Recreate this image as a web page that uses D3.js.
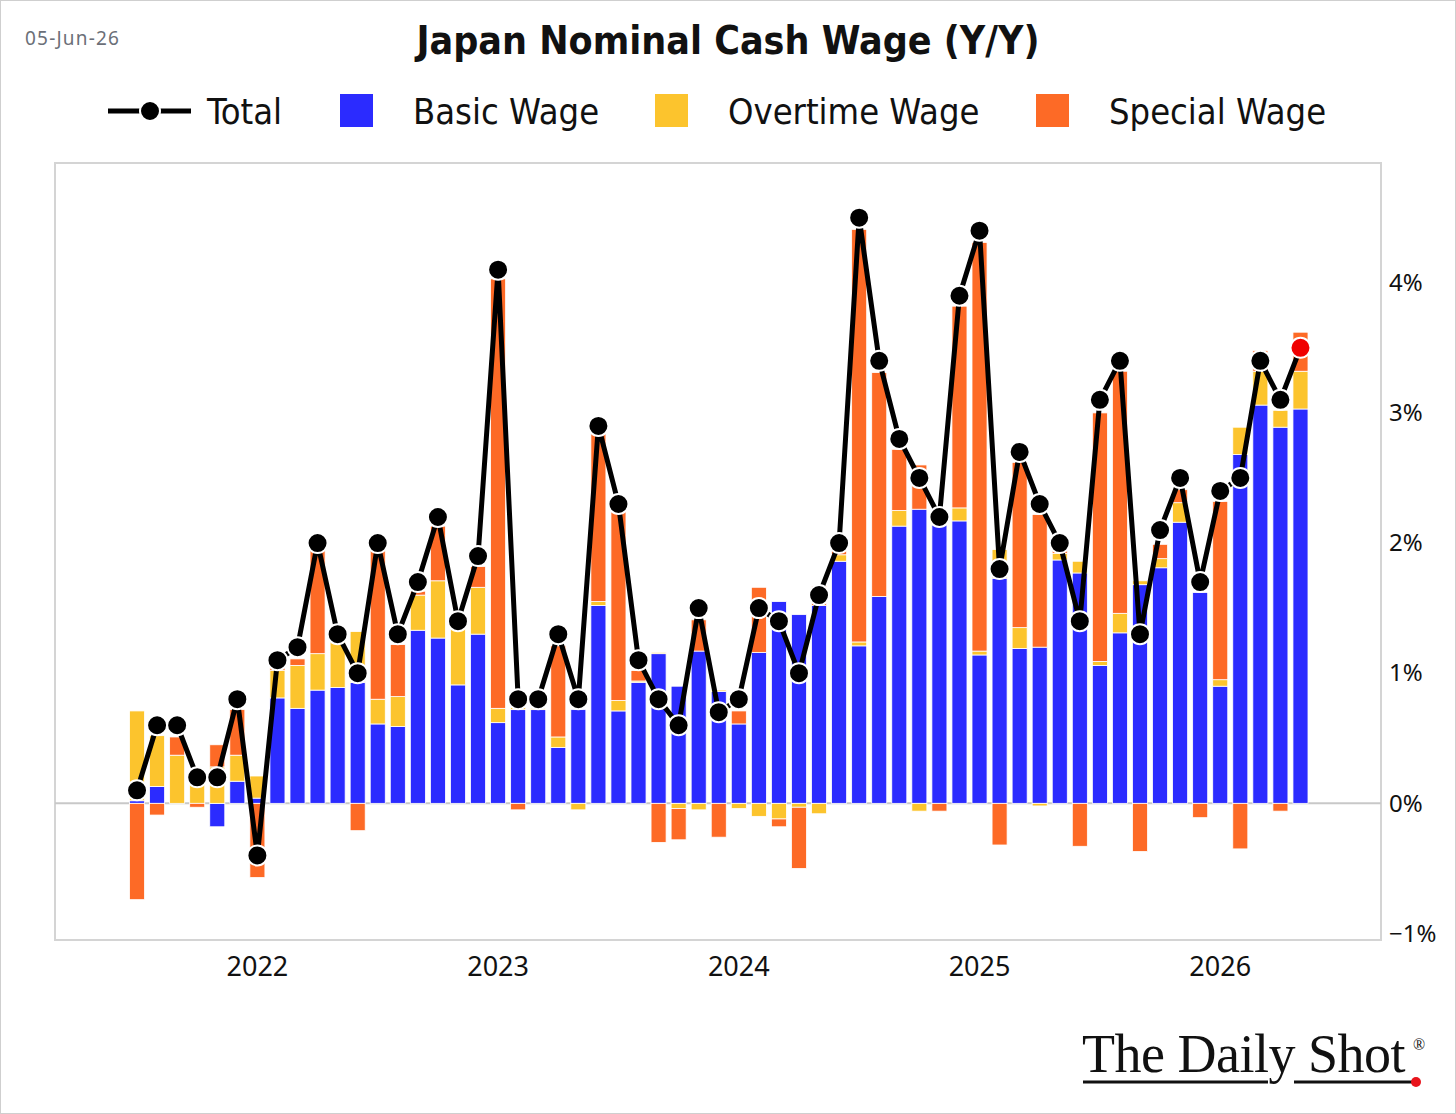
<!DOCTYPE html>
<html>
<head>
<meta charset="utf-8">
<script src="https://cdn.jsdelivr.net/npm/d3@7"></script>
<style>
  body { margin: 0; background: #fff; }
  svg { display: block; }
</style>
</head>
<body>
<div id="chart"></div>
<script>
// months Jul 2021 .. May 2026
const months = ["2021-07","2021-08","2021-09","2021-10","2021-11","2021-12",
  "2022-01","2022-02","2022-03","2022-04","2022-05","2022-06","2022-07","2022-08","2022-09","2022-10","2022-11","2022-12",
  "2023-01","2023-02","2023-03","2023-04","2023-05","2023-06","2023-07","2023-08","2023-09","2023-10","2023-11","2023-12",
  "2024-01","2024-02","2024-03","2024-04","2024-05","2024-06","2024-07","2024-08","2024-09","2024-10","2024-11","2024-12",
  "2025-01","2025-02","2025-03","2025-04","2025-05","2025-06","2025-07","2025-08","2025-09","2025-10","2025-11","2025-12",
  "2026-01","2026-02","2026-03","2026-04","2026-05"];

const total = [0.1,0.6,0.6,0.2,0.2,0.8,
  -0.4,1.1,1.2,2.0,1.3,1.0,2.0,1.3,1.7,2.2,1.4,1.9,
  4.1,0.8,0.8,1.3,0.8,2.9,2.3,1.1,0.8,0.6,1.5,0.7,
  0.8,1.5,1.4,1.0,1.6,2.0,4.5,3.4,2.8,2.5,2.2,3.9,
  4.4,1.8,2.7,2.3,2.0,1.4,3.1,3.4,1.3,2.1,2.5,1.7,
  2.4,2.5,3.4,3.1,3.5];

const basic = [0.02,0.13,0.0,0.0,-0.18,0.17,
  0.04,0.81,0.73,0.87,0.89,0.93,0.61,0.59,1.33,1.27,0.91,1.30,
  0.62,0.72,0.72,0.43,0.72,1.52,0.71,0.93,1.15,0.90,1.17,0.86,
  0.61,1.16,1.55,1.45,1.52,1.86,1.21,1.59,2.13,2.26,2.14,2.17,
  1.14,1.73,1.19,1.20,1.87,1.77,1.06,1.31,1.68,1.81,2.16,1.62,
  0.90,2.68,3.06,2.89,3.03];

const overtime = [0.69,0.39,0.37,0.15,0.28,0.20,
  0.17,0.21,0.33,0.28,0.36,0.39,0.19,0.23,0.27,0.44,0.47,0.36,
  0.11,0.02,0.01,0.08,-0.05,0.03,0.08,0.01,0.01,-0.04,-0.05,0.01,
  -0.04,-0.10,-0.12,-0.03,-0.08,0.05,0.03,0.0,0.12,-0.06,0.05,0.10,
  0.03,0.22,0.16,-0.02,0.05,0.09,0.03,0.15,0.03,0.07,0.15,0.0,
  0.05,0.21,0.26,0.13,0.29];

const special = [-0.74,-0.09,0.14,-0.03,0.17,0.35,
  -0.57,0.04,0.05,0.80,0.05,-0.21,1.15,0.40,0.03,0.42,0.02,0.16,
  3.30,-0.05,0.0,0.70,0.0,1.29,1.45,0.08,-0.30,-0.24,0.24,-0.26,
  0.10,0.50,-0.06,-0.47,0.15,0.04,3.17,1.72,0.47,0.34,-0.06,1.55,
  3.14,-0.32,1.27,1.02,0.03,-0.33,1.91,1.86,-0.37,0.11,0.10,-0.11,
  1.37,-0.35,0.16,-0.06,0.30];

const yTicks = [-1, 0, 1, 2, 3, 4];
const yearTicks = ["2022-01","2023-01","2024-01","2025-01","2026-01"];

const seriesNames = ["Basic Wage", "Overtime Wage", "Special Wage"];
const colors = ["#2b2bff", "#fcc42d", "#fd6a26"];

const W = 1456, H = 1114;
const plot = {left: 55, top: 163, right: 1381, bottom: 940};

const svg = d3.select("#chart").append("svg")
  .attr("width", W)
  .attr("height", H)
  .style("font-family", "'Noto Sans', sans-serif");

// outer border
svg.append("rect")
  .attr("x", 0.5).attr("y", 0.5)
  .attr("width", W - 1).attr("height", H - 1)
  .attr("fill", "#fff").attr("stroke", "#cfcfcf");

// scales
const x = d3.scaleBand()
  .domain(months)
  .range([127, 1310.5])
  .paddingInner(0.25)
  .paddingOuter(0.125);

const y = d3.scaleLinear()
  .domain([-1.05, 4.92])
  .range([plot.bottom, plot.top]);

// stacked data, positives up and negatives down
const rows = months.map((m, i) => ({month: m, b: basic[i], o: overtime[i], s: special[i]}));
const stacked = d3.stack()
  .keys(["b", "o", "s"])
  .offset(d3.stackOffsetDiverging)(rows);

// frame
svg.append("rect")
  .attr("x", plot.left).attr("y", plot.top)
  .attr("width", plot.right - plot.left)
  .attr("height", plot.bottom - plot.top)
  .attr("fill", "none")
  .attr("stroke", "#d4d4d4")
  .attr("stroke-width", 2);

// zero line
svg.append("line")
  .attr("x1", plot.left).attr("x2", plot.right)
  .attr("y1", y(0)).attr("y2", y(0))
  .attr("stroke", "#c8c8c8")
  .attr("stroke-width", 2);

// bars
svg.append("g").selectAll("g")
  .data(stacked)
  .join("g")
  .attr("fill", (d, i) => colors[i])
  .selectAll("rect")
  .data(d => d)
  .join("rect")
  .attr("x", d => x(d.data.month))
  .attr("width", x.bandwidth())
  .attr("y", d => y(Math.max(d[0], d[1])))
  .attr("height", d => Math.abs(y(d[0]) - y(d[1])))
  .attr("stroke", "#fff")
  .attr("stroke-width", 0.8);

// total line
const cx = m => x(m) + x.bandwidth() / 2;
const line = d3.line()
  .x((d, i) => cx(months[i]))
  .y(d => y(d));

svg.append("path")
  .datum(total)
  .attr("fill", "none")
  .attr("stroke", "#000")
  .attr("stroke-width", 5)
  .attr("stroke-linejoin", "round")
  .attr("d", line);

svg.append("g").selectAll("circle")
  .data(total)
  .join("circle")
  .attr("cx", (d, i) => cx(months[i]))
  .attr("cy", d => y(d))
  .attr("r", 10)
  .attr("fill", (d, i) => i === total.length - 1 ? "#f00000" : "#000")
  .attr("stroke", "#fff")
  .attr("stroke-width", 2);

// y axis on right
const yAxis = d3.axisRight(y)
  .tickValues(yTicks)
  .tickSize(0)
  .tickPadding(0)
  .tickFormat(d => (d < 0 ? "\u2212" : "") + Math.abs(d) + "%");

svg.append("g")
  .attr("transform", "translate(1389,0)")
  .call(yAxis)
  .call(g => g.select(".domain").remove())
  .selectAll("text")
  .attr("font-size", 24)
  .attr("font-family", "'Noto Sans', sans-serif")
  .attr("fill", "#111");

// x axis
const xAxis = d3.axisBottom(x)
  .tickValues(yearTicks)
  .tickSize(0)
  .tickPadding(0)
  .tickFormat(d => d.slice(0, 4));

svg.append("g")
  .attr("transform", "translate(0,957)")
  .call(xAxis)
  .call(g => g.select(".domain").remove())
  .selectAll("text")
  .attr("font-size", 27)
  .attr("font-family", "'Noto Sans', sans-serif")
  .attr("fill", "#111");

// date + title
svg.append("text")
  .attr("x", 25).attr("y", 45)
  .attr("font-size", 19)
  .attr("font-family", "'Noto Sans', sans-serif")
  .attr("letter-spacing", 1.2)
  .attr("fill", "#6b6f78")
  .text("05-Jun-26");

svg.append("text")
  .attr("x", 728).attr("y", 54)
  .attr("text-anchor", "middle")
  .attr("font-size", 39)
  .attr("font-weight", "bold")
  .attr("font-family", "'DejaVu Sans Condensed', 'DejaVu Sans', sans-serif")
  .style("font-stretch", "condensed")
  .attr("fill", "#111")
  .text("Japan Nominal Cash Wage (Y/Y)");

// legend
const legend = svg.append("g")
  .style("font-family", "'DejaVu Sans Condensed', 'DejaVu Sans', sans-serif")
  .style("font-stretch", "condensed");

legend.append("line")
  .attr("x1", 108).attr("x2", 191)
  .attr("y1", 111).attr("y2", 111)
  .attr("stroke", "#000").attr("stroke-width", 5);
legend.append("circle")
  .attr("cx", 150).attr("cy", 111).attr("r", 10)
  .attr("fill", "#000").attr("stroke", "#fff").attr("stroke-width", 2);
legend.append("text")
  .attr("x", 207).attr("y", 124)
  .attr("font-size", 36)
  .attr("fill", "#111")
  .text("Total");

const legendX = [340, 655, 1036];
seriesNames.forEach((name, i) => {
  legend.append("rect")
    .attr("x", legendX[i]).attr("y", 94)
    .attr("width", 33).attr("height", 33)
    .attr("fill", colors[i]);
  legend.append("text")
    .attr("x", legendX[i] + 73).attr("y", 124)
    .attr("font-size", 36)
    .attr("fill", "#111")
    .text(name);
});

// watermark
const mark = svg.append("g");
mark.append("text")
  .attr("x", 1082).attr("y", 1072)
  .attr("font-size", 54)
  .attr("font-family", "'Liberation Serif', 'DejaVu Serif', serif")
  .attr("letter-spacing", -0.5)
  .attr("fill", "#111")
  .text("The Daily Shot");
mark.append("text")
  .attr("x", 1413).attr("y", 1050)
  .attr("font-size", 16)
  .attr("font-family", "'Liberation Serif', serif")
  .attr("fill", "#111")
  .text("\u00AE");
mark.append("line")
  .attr("x1", 1083).attr("x2", 1268)
  .attr("y1", 1082).attr("y2", 1082)
  .attr("stroke", "#111").attr("stroke-width", 3);
mark.append("line")
  .attr("x1", 1294).attr("x2", 1414)
  .attr("y1", 1082).attr("y2", 1082)
  .attr("stroke", "#111").attr("stroke-width", 3);
mark.append("circle")
  .attr("cx", 1416).attr("cy", 1082).attr("r", 5)
  .attr("fill", "#e8141c");
</script>
</body>
</html>
